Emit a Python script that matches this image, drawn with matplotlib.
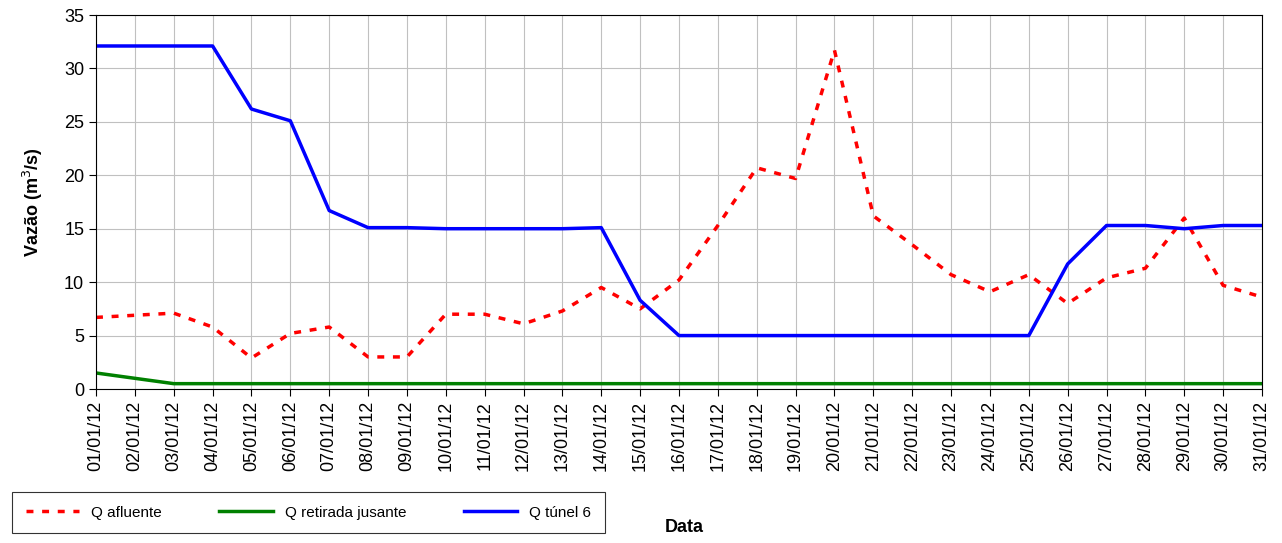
import matplotlib.pyplot as plt

datas = [f"{d:02d}/01/12" for d in range(1, 32)]
q_afluente = [6.7, 6.9, 7.1, 5.8, 2.9, 5.2, 5.8, 3.0, 3.0, 7.0, 7.0, 6.1, 7.3, 9.5, 7.5,
              10.2, 15.3, 20.7, 19.7, 31.7, 16.2, 13.5, 10.7, 9.1, 10.7, 8.0, 10.4, 11.3,
              16.0, 9.7, 8.6]
q_retirada = [1.5, 1.0, 0.5] + [0.5] * 28
q_tunel = [32.1, 32.1, 32.1, 32.1, 26.2, 25.1, 16.7, 15.1, 15.1, 15.0, 15.0, 15.0, 15.0,
           15.1, 8.3, 5.0, 5.0, 5.0, 5.0, 5.0, 5.0, 5.0, 5.0, 5.0, 5.0, 11.7, 15.3, 15.3,
           15.0, 15.3, 15.3]

fig = plt.figure(figsize=(12.82, 5.43), dpi=100)
ax = fig.add_axes([96/1282, 1-389/543, 1166/1282, 374/543])
x = range(len(datas))
l1, = ax.plot(x, q_afluente, color="#ff0000", lw=2.5, ls=(0, (2, 2.5)), label="Q afluente")
l2, = ax.plot(x, q_retirada, color="#008000", lw=2.5, label="Q retirada jusante")
l3, = ax.plot(x, q_tunel, color="#0000ff", lw=2.5, label="Q túnel 6")

ax.set_xlim(0, len(datas) - 1)
ax.set_ylim(0, 35)
ax.set_yticks(range(0, 36, 5))
ax.set_xticks(list(x))
ax.set_xticklabels(datas, rotation=90, fontsize=13, family="Liberation Sans")
for t in ax.get_yticklabels():
    t.set_fontsize(13)
    t.set_family("Liberation Sans")
ax.tick_params(length=5, direction="out")
ax.grid(True, color="#c0c0c0", lw=0.8)
ax.set_axisbelow(True)
ax.set_ylabel("Vazão (m$^3$/s)", fontsize=13, fontweight="bold", family="Liberation Sans",
              labelpad=14)
fig.text(684/1282, 1-528/543, "Data", fontsize=13, fontweight="bold",
         family="Liberation Sans", ha="center", va="center")

leg = fig.legend(handles=[l1, l2, l3], loc="center left", ncol=3,
                 bbox_to_anchor=(12/1282, 10/543, 593/1282, 41/543), mode="expand",
                 fancybox=False, edgecolor="black", prop={"family": "Liberation Sans", "size": 11},
                 handlelength=3.5, borderaxespad=0, borderpad=0.9)
leg.get_frame().set_linewidth(0.8)

fig.savefig("out.png", dpi=100)
